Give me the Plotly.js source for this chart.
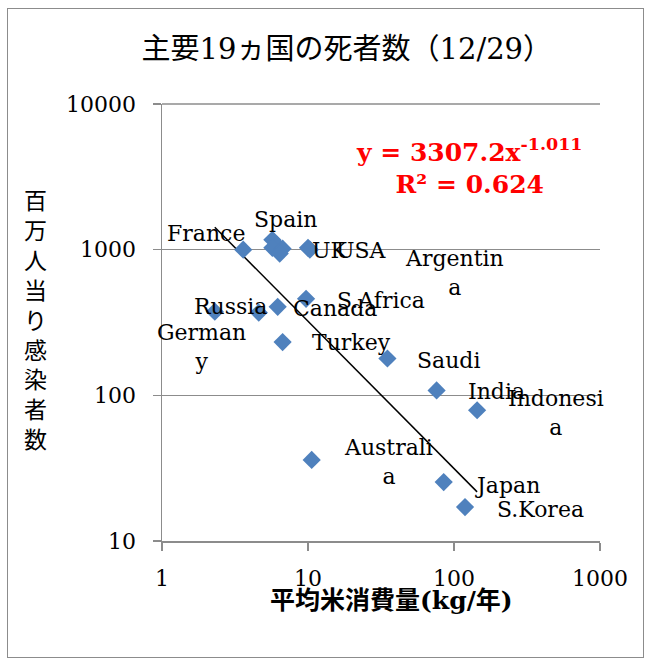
<!DOCTYPE html>
<html>
<head>
<meta charset="utf-8">
<script src="https://cdn.plot.ly/plotly-3.0.1.min.js"></script>
<style>
  html, body { margin: 0; padding: 0; background: #fff; }
  #wrap { position: relative; width: 650px; height: 660px; }
  #chart { position: absolute; left: 0; top: 0; width: 650px; height: 660px; }
  #frame { position: absolute; left: 7px; top: 8px; width: 635px; height: 648px;
           border: 1.5px solid #8c8c8c; pointer-events: none; }
</style>
</head>
<body>
<div id="wrap">
  <div id="chart"></div>
  <div id="frame"></div>
</div>
<script>
// Countries, average rice consumption (kg/year) and deaths per million
const countries = ['France', 'Italy', 'Spain', 'Mexico', 'Argentina', 'Brazil', 'UK', 'USA',
  'Germany', 'Russia', 'Canada', 'S.Africa', 'Turkey', 'Saudi', 'India', 'Indonesia',
  'Australia', 'Japan', 'S.Korea'];
const riceKg = [3.6, 5.7, 6.1, 5.7, 6.7, 6.4, 10.0, 10.3,
  2.3, 4.6, 6.2, 9.7, 6.7, 35, 76, 144,
  10.6, 85, 119];
const deathsPerMillion = [1000, 1170, 1080, 1030, 1015, 940, 1030, 1000,
  375, 370, 405, 460, 232, 179, 108, 79,
  36, 25.4, 17.1];

// Power-law trendline y = a * x^b
const fitA = 3307.2;
const fitB = -1.011;
const fitR2 = 0.624;

// Axis ticks
const xTickVals = [1, 10, 100, 1000];
const xTickText = ['1', '10', '100', '1000'];
const yTickVals = [10, 100, 1000, 10000];
const yTickText = ['10', '100', '1000', '10000'];

// Label text per country (wrapped names keep their breaks); unlabeled ones are absent
const labelText = {
  'France': 'France', 'Spain': 'Spain', 'UK': 'UK', 'USA': 'USA',
  'Argentina': 'Argentin<br>a', 'Germany': 'German<br>y', 'Russia': 'Russia',
  'Canada': 'Canada', 'S.Africa': 'S.Africa', 'Turkey': 'Turkey', 'Saudi': 'Saudi',
  'India': 'India', 'Indonesia': 'Indonesi<br>a', 'Australia': 'Australi<br>a',
  'Japan': 'Japan', 'S.Korea': 'S.Korea'
};
// Pixel offsets of each label from its marker
const labelShift = {
  'France': [-37, 16], 'Spain': [9, 25], 'UK': [22, -3], 'USA': [52, -1],
  'Argentina': [172, -24], 'Germany': [-13, -35], 'Russia': [-28, 6],
  'Canada': [57, -2], 'S.Africa': [75, -2], 'Turkey': [69, 0], 'Saudi': [61, -2],
  'India': [60, -1], 'Indonesia': [79, -3], 'Australia': [77, -2],
  'Japan': [64, -3], 'S.Korea': [75, -2]
};

// Serif Latin glyphs first; CJK characters fall back to Noto Sans CJK JP
const SERIF = 'DejaVu Serif, Noto Sans CJK JP, serif';

const xMin = Math.min(...riceKg);
const xMax = Math.max(...riceKg);
const trendX = [xMin, xMax];
const trendY = trendX.map(v => fitA * Math.pow(v, fitB));

const points = {
  type: 'scatter', mode: 'markers',
  x: riceKg, y: deathsPerMillion, text: countries,
  marker: { symbol: 'diamond', size: 14, color: '#4F81BD', line: { width: 0 } },
  showlegend: false, hoverinfo: 'text'
};
const trend = {
  type: 'scatter', mode: 'lines', x: trendX, y: trendY,
  line: { color: '#000', width: 1.5 }, showlegend: false, hoverinfo: 'skip'
};

const annotations = [];
countries.forEach((c, i) => {
  if (!labelText[c]) return;
  const s = labelShift[c];
  annotations.push({
    x: Math.log10(riceKg[i]), y: Math.log10(deathsPerMillion[i]),
    xref: 'x', yref: 'y', text: labelText[c], showarrow: false,
    xshift: s[0], yshift: s[1], xanchor: 'center', yanchor: 'middle',
    font: { family: SERIF, size: 22, color: '#000' }
  });
});
// Trendline equation
annotations.push({
  xref: 'paper', yref: 'paper', x: 0.703, y: 0.858, xanchor: 'center', yanchor: 'middle',
  showarrow: false, align: 'center',
  text: '<b>y = ' + fitA.toFixed(1) + 'x<sup>' + fitB.toFixed(3) + '</sup></b><br><b>R² = ' + fitR2.toFixed(3) + '</b>',
  font: { family: SERIF, size: 25, color: '#FF0000' }
});
// Vertical y-axis title, one character per line
annotations.push({
  xref: 'paper', yref: 'paper', x: -0.288, y: 0.505, xanchor: 'center', yanchor: 'middle',
  showarrow: false, text: '百万人当り感染者数'.split('').join('<br>'),
  font: { family: SERIF, size: 23, color: '#000' }
});
// x-axis title
annotations.push({
  xref: 'paper', yref: 'paper', x: 0.523, y: -0.137, xanchor: 'center', yanchor: 'middle',
  showarrow: false, text: '<b>平均米消費量(kg/年)</b>',
  font: { family: SERIF, size: 25, color: '#000' }
});

const layout = {
  width: 650, height: 660,
  margin: { l: 162, r: 50, t: 104, b: 119 },
  paper_bgcolor: '#fff', plot_bgcolor: '#fff',
  title: {
    text: '主要19ヵ国の死者数（12/29）',
    xref: 'paper', x: 0.422, xanchor: 'center',
    yref: 'container', y: 0.926, yanchor: 'middle',
    font: { family: SERIF, size: 29, color: '#000' }
  },
  xaxis: {
    type: 'log', range: [0, 3],
    tickvals: xTickVals, ticktext: xTickText,
    showgrid: false, zeroline: false,
    showline: true, linecolor: '#8c8c8c', linewidth: 1.5,
    ticks: 'outside', ticklen: 8, tickcolor: '#8c8c8c', tickwidth: 1.5,
    ticklabelstandoff: 9,
    tickfont: { family: SERIF, size: 22, color: '#000' }
  },
  yaxis: {
    type: 'log', range: [1, 4],
    tickvals: yTickVals, ticktext: yTickText,
    showgrid: true, gridcolor: '#8c8c8c', gridwidth: 1.5, zeroline: false,
    showline: true, linecolor: '#8c8c8c', linewidth: 1.5,
    ticks: 'outside', ticklen: 8, tickcolor: '#8c8c8c', tickwidth: 1.5,
    ticklabelstandoff: 12,
    tickfont: { family: SERIF, size: 22, color: '#000' }
  },
  shapes: [
    // top gridline at the upper edge of the plot area
    { type: 'line', xref: 'paper', yref: 'paper', x0: 0, x1: 1, y0: 1, y1: 1,
      line: { color: '#8c8c8c', width: 1.5 }, layer: 'below' }
  ],
  annotations: annotations
};

Plotly.newPlot('chart', [trend, points], layout, { staticPlot: true, displayModeBar: false });
</script>
</body>
</html>
